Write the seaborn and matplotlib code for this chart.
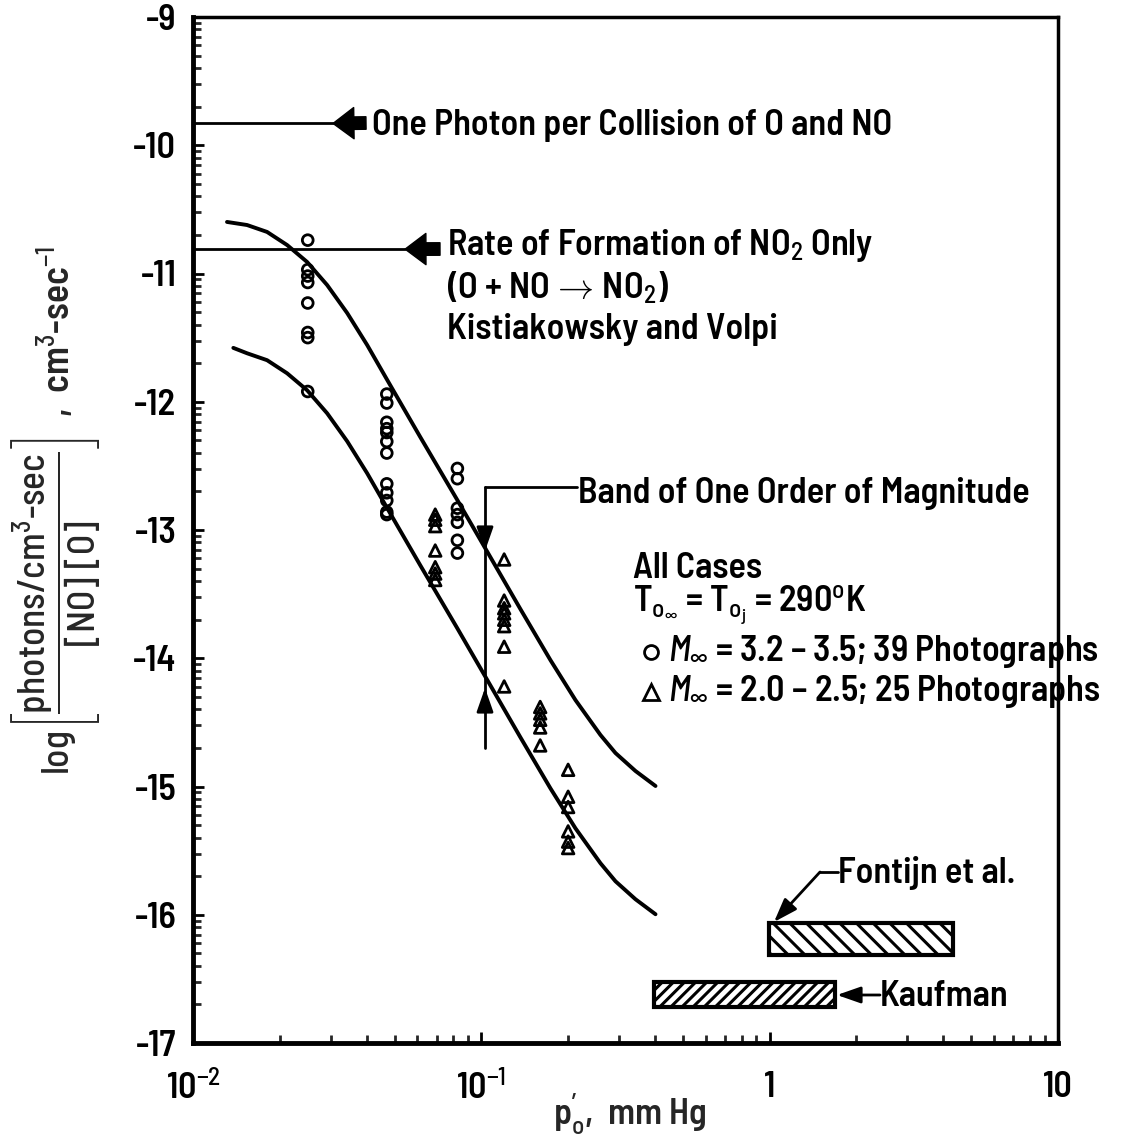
import numpy as np
import matplotlib
matplotlib.use("Agg")
import matplotlib.pyplot as plt
import seaborn as sns
from matplotlib.patches import Rectangle
from matplotlib.lines import Line2D

# ---------------- data ----------------
circ_x = [0.025]*8 + [0.047]*12 + [0.0826]*7
circ_y = [-10.74, -10.97, -11.02, -11.07, -11.23, -11.46, -11.50, -11.92,
          -11.94, -12.01, -12.16, -12.21, -12.24, -12.31, -12.40, -12.64, -12.71, -12.77, -12.86, -12.88,
          -12.52, -12.60, -12.83, -12.88, -12.94, -13.08, -13.18]

tri_x = [0.0692]*7 + [0.120]*8 + [0.160]*5 + [0.200]*6
tri_y = [-12.88, -12.92, -12.97, -13.16, -13.29, -13.34, -13.39,
         -13.23, -13.55, -13.61, -13.65, -13.70, -13.75, -13.91, -14.22,
         -14.38, -14.43, -14.48, -14.54, -14.68,
         -14.87, -15.08, -15.16, -15.35, -15.43, -15.48]

upper_x = [0.01312, 0.0154, 0.01807, 0.0212, 0.02487, 0.02919, 0.03425, 0.04019, 0.04716, 0.0614,
           0.08253, 0.10746, 0.13657, 0.1736, 0.21205, 0.25886, 0.29192, 0.34242, 0.40186]
upper_y = [-10.598, -10.622, -10.676, -10.778, -10.910, -11.090, -11.308, -11.558, -11.830, -12.275,
           -12.766, -13.211, -13.616, -14.014, -14.326, -14.598, -14.739, -14.879, -14.996]

lower_x = [0.0138, 0.0154, 0.01807, 0.0212, 0.02487, 0.02919, 0.03425, 0.04019, 0.04716, 0.0614,
           0.08253, 0.10746, 0.13657, 0.1736, 0.21205, 0.25886, 0.29192, 0.34242, 0.40186]
lower_y = [-11.58, -11.622, -11.676, -11.778, -11.910, -12.090, -12.308, -12.558, -12.830, -13.275,
           -13.766, -14.211, -14.616, -15.014, -15.326, -15.598, -15.739, -15.879, -15.996]

photon_level = -9.83      # one photon per collision
no2_level = -10.81        # rate of formation of NO2 only

fontijn_x = [0.993, 4.32]
fontijn_y = [-16.314, -16.064]
kaufman_x = [0.396, 1.69]
kaufman_y = [-16.719, -16.524]

xticks = [0.01, 0.1, 1, 10]
xtick_labels = [r"10$^{-2}$", r"10$^{-1}$", "1", "10"]
yticks = [-17, -16, -15, -14, -13, -12, -11, -10, -9]
ytick_labels = ["-17", "-16", "-15", "-14", "-13", "-12", "-11", "-10", "-9"]

# ---------------- style ----------------
sns.set_theme(style="ticks")
FAM = "Barlow Semi Condensed"
plt.rcParams["font.family"] = [FAM, "DejaVu Sans"]
plt.rcParams["font.weight"] = "medium"
plt.rcParams["mathtext.fontset"] = "custom"
plt.rcParams["mathtext.rm"] = FAM + ":medium"
plt.rcParams["mathtext.it"] = FAM + ":italic:medium"
plt.rcParams["mathtext.bf"] = FAM + ":bold"
plt.rcParams["mathtext.sf"] = FAM + ":medium"
plt.rcParams["hatch.linewidth"] = 2.2

FS = 26
W, H = 1135, 1145
fig = plt.figure(figsize=(W/100, H/100), dpi=100)
L, R, T, B = 193, 1058, 17, 1043
ax = fig.add_axes([L/W, 1-B/H, (R-L)/W, (B-T)/H])

def F(xp, yp):
    return (xp/W, 1-yp/H)

# curves
sns.lineplot(x=upper_x, y=upper_y, ax=ax, color="black", lw=2.8, sort=False, estimator=None)
sns.lineplot(x=lower_x, y=lower_y, ax=ax, color="black", lw=2.8, sort=False, estimator=None)

# points
sns.scatterplot(x=circ_x, y=circ_y, ax=ax, marker="o", s=60, linewidth=2.0)
ax.collections[-1].set_facecolor("none"); ax.collections[-1].set_edgecolor("black")
sns.scatterplot(x=tri_x, y=tri_y, ax=ax, marker="^", s=70, linewidth=2.0)
ax.collections[-1].set_facecolor("none"); ax.collections[-1].set_edgecolor("black")

ax.set_xscale("log")
ax.set_xlim(0.01, 10)
ax.set_ylim(-17, -9)

ax.set_xticks(xticks)
ax.set_xticklabels(xtick_labels)
ax.xaxis.set_minor_locator(matplotlib.ticker.LogLocator(base=10, subs=np.arange(2, 10)))
ax.xaxis.set_minor_formatter(matplotlib.ticker.NullFormatter())
ax.set_yticks(yticks)
ax.set_yticklabels(ytick_labels)
yminor = [n + np.log10(k) for n in range(-17, -9) for k in range(2, 10)]
ax.set_yticks(yminor, minor=True)

ax.tick_params(axis="both", which="major", direction="in", length=8, width=2, labelsize=26,
               top=False, right=False, colors="black")
ax.tick_params(axis="y", which="major", pad=12)
ax.tick_params(axis="x", which="major", pad=20)
ax.tick_params(axis="both", which="minor", direction="in", length=6, width=2, top=False, right=False)
for lab in ax.get_xticklabels() + ax.get_yticklabels():
    lab.set_fontweight("semibold")
for side, lw in [("left", 3.5), ("bottom", 3.5), ("top", 2.5), ("right", 2.5)]:
    ax.spines[side].set_linewidth(lw)
    ax.spines[side].set_color("black")
    ax.spines[side].set_visible(True)

# reference horizontal lines with block arrows
arrow_style = "simple,head_length=1.0,head_width=1.5,tail_width=0.6"
ax.plot([0.01, 0.0306], [photon_level, photon_level], color="black", lw=2, clip_on=False)
ax.annotate("", xy=(0.0306, photon_level), xycoords="data",
            xytext=F(366, 123), textcoords="figure fraction",
            arrowprops=dict(arrowstyle=arrow_style, color="black", mutation_scale=15, shrinkA=0, shrinkB=0))
ax.plot([0.01, 0.0544], [no2_level, no2_level], color="black", lw=2, clip_on=False)
ax.annotate("", xy=(0.0544, no2_level), xycoords="data",
            xytext=F(440, 249), textcoords="figure fraction",
            arrowprops=dict(arrowstyle=arrow_style, color="black", mutation_scale=15, shrinkA=0, shrinkB=0))

tk = dict(fontsize=FS, fontweight="semibold", color="black", va="center", ha="left")
fig.text(*F(372, 126), "One Photon per Collision of O and NO", **tk)
fig.text(*F(447, 246), r"Rate of Formation of NO$_2$ Only", **tk)
fig.text(*F(447, 288), r"(O + NO $\!\rightarrow\!$ NO$_2$)", **tk)
fig.text(*F(447, 330), "Kistiakowsky and Volpi", **tk)

# band annotation
ax.plot([F(485, 487)[0], F(485, 748)[0]], [F(485, 487)[1], F(485, 748)[1]],
        transform=fig.transFigure, color="black", lw=2, clip_on=False)
ax.plot([F(485, 487)[0], F(577, 487)[0]], [F(485, 487)[1], F(577, 487)[1]],
        transform=fig.transFigure, color="black", lw=2, clip_on=False)
hs = "-|>,head_length=0.8,head_width=0.28"
ax.annotate("", xy=F(485, 551), xycoords="figure fraction", xytext=F(485, 530), textcoords="figure fraction",
            arrowprops=dict(arrowstyle=hs, color="black", mutation_scale=18, lw=2, shrinkA=0, shrinkB=0))
ax.annotate("", xy=F(485, 688), xycoords="figure fraction", xytext=F(485, 709), textcoords="figure fraction",
            arrowprops=dict(arrowstyle=hs, color="black", mutation_scale=18, lw=2, shrinkA=0, shrinkB=0))
fig.text(*F(578, 493), "Band of One Order of Magnitude", **tk)

# legend block
fig.text(*F(633, 568), "All Cases", **tk)
fig.text(*F(633, 605), r"T$_{\mathrm{o}_\infty}$ = T$_{\mathrm{o}_\mathrm{j}}$ = 290$^\mathrm{o}$K", **tk)
fig.add_artist(Line2D([651/W], [1-652/H], marker="o", ms=10, mfc="none", mec="black", mew=2, ls=""))
fig.add_artist(Line2D([651/W], [1-692/H], marker="^", ms=11, mfc="none", mec="black", mew=2, ls=""))
fig.text(*F(668, 652), r"$M_\infty$ = 3.2 – 3.5; 39 Photographs", **tk)
fig.text(*F(668, 692), r"$M_\infty$ = 2.0 – 2.5; 25 Photographs", **tk)

# hatched boxes
ax.add_patch(Rectangle((fontijn_x[0], fontijn_y[0]), fontijn_x[1]-fontijn_x[0], fontijn_y[1]-fontijn_y[0],
                       facecolor="white", edgecolor="black", lw=3, hatch="\\\\"))
ax.add_patch(Rectangle((kaufman_x[0], kaufman_y[0]), kaufman_x[1]-kaufman_x[0], kaufman_y[1]-kaufman_y[0],
                       facecolor="white", edgecolor="black", lw=3, hatch="///"))

ax.plot([F(838, 872)[0], F(820, 872)[0]], [F(838, 872)[1], F(820, 872)[1]],
        transform=fig.transFigure, color="black", lw=2, clip_on=False)
ax.annotate("", xy=F(774, 922), xycoords="figure fraction", xytext=F(820, 872), textcoords="figure fraction",
            arrowprops=dict(arrowstyle="-|>,head_length=0.8,head_width=0.28", color="black",
                            mutation_scale=18, lw=2, shrinkA=0, shrinkB=0))
fig.text(*F(838, 873), "Fontijn et al.", **tk)
ax.annotate("", xy=F(837, 995), xycoords="figure fraction", xytext=F(880, 995), textcoords="figure fraction",
            arrowprops=dict(arrowstyle="-|>,head_length=0.8,head_width=0.28", color="black",
                            mutation_scale=18, lw=2, shrinkA=0, shrinkB=0))
fig.text(*F(880, 996), "Kaufman", **tk)

# axis labels
fig.text(*F(630, 1114), r"p$_\mathrm{o}^{\prime}$,  mm Hg", fontsize=FS, fontweight="semibold",
         ha="center", va="center")
fig.text(*F(56, 510),
         r"$\mathrm{log}\left[\dfrac{\mathrm{photons/cm^3\text{-}sec}}{\mathrm{[NO]\ [O]}}\right]$  ,  cm$^3$-sec$^{-1}$",
         fontsize=27, fontweight="semibold", rotation=90, ha="center", va="center")

ax.set_xlabel("")
ax.set_ylabel("")
fig.savefig("out.png", dpi=100)
